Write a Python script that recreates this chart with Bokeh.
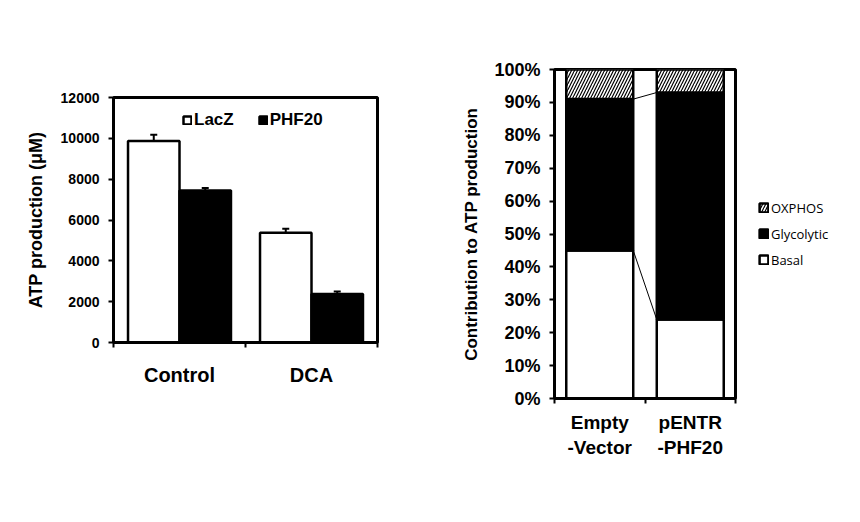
import numpy as np
from bokeh.plotting import figure
from bokeh.layouts import row, column
from bokeh.models import (Range1d, FixedTicker, Whisker, TeeHead, ColumnDataSource,
                          Legend, LegendItem, PrintfTickFormatter, Title)
from bokeh.embed import file_html
from bokeh.resources import INLINE

# ---------------- data ----------------
groups = ["Control", "DCA"]
lacz = [9870, 5370]
lacz_err = [300, 200]
phf20 = [7450, 2370]
phf20_err = [120, 130]
y_ticks_left = [0, 2000, 4000, 6000, 8000, 10000, 12000]

conditions = ["Empty\n-Vector", "pENTR\n-PHF20"]
basal = [45, 24]
glycolytic = [46, 69]
oxphos = [9, 7]
pct_ticks = [0, 10, 20, 30, 40, 50, 60, 70, 80, 90, 100]

FONT = "Liberation Sans"


def style_axes(p, ytick_size, xlab_size, xstandoff):
    for ax in (p.xaxis, p.yaxis):
        ax.axis_line_width = 3
        ax.axis_line_color = "black"
        ax.major_label_text_font = FONT
        ax.major_label_text_font_style = "bold"
        ax.major_label_text_color = "black"
    p.yaxis.minor_tick_line_color = None
    p.yaxis.major_tick_out = 5
    p.yaxis.major_tick_in = 0
    p.yaxis.major_tick_line_width = 2
    p.yaxis.major_tick_line_color = "black"
    p.yaxis.major_label_standoff = 9
    p.yaxis.major_label_text_font_size = ytick_size
    p.xaxis.major_tick_out = 0
    p.xaxis.major_tick_in = 0
    p.xaxis.minor_tick_out = 5
    p.xaxis.minor_tick_in = 0
    p.xaxis.minor_tick_line_width = 2
    p.xaxis.minor_tick_line_color = "black"
    p.xaxis.major_label_standoff = xstandoff
    p.xaxis.major_label_text_font_size = xlab_size


def side_label(p, text, size, offset, standoff):
    p.add_layout(Title(text=text, align="center", offset=offset, standoff=standoff,
                       text_font=FONT, text_font_style="bold", text_color="black",
                       text_font_size=size), "left")


# ---------------- left chart ----------------
p1 = figure(output_backend="svg", toolbar_location=None,
            frame_width=264, frame_height=245,
            min_border_left=113, min_border_right=71,
            min_border_top=97, min_border_bottom=164,
            x_range=Range1d(0, len(groups)), y_range=Range1d(0, 12000))
p1.outline_line_color = "black"
p1.outline_line_width = 3
p1.grid.visible = False

gx = np.arange(len(groups)) + 0.5
bw = 0.39
src_l = ColumnDataSource(dict(x=gx - bw / 2, top=lacz, up=np.array(lacz) + np.array(lacz_err)))
src_p = ColumnDataSource(dict(x=gx + bw / 2, top=phf20, up=np.array(phf20) + np.array(phf20_err)))

for src in (src_l, src_p):
    p1.add_layout(Whisker(source=src, base="x", upper="up", lower="top", dimension="height",
                          line_color="black", line_width=2,
                          upper_head=TeeHead(size=7, line_width=2, line_color="black"),
                          lower_head=None))
r_l = p1.vbar(x="x", top="top", width=bw, source=src_l, fill_color="white",
              line_color="black", line_width=2.5)
r_p = p1.vbar(x="x", top="top", width=bw, source=src_p, fill_color="black",
              line_color="black", line_width=2.5)

style_axes(p1, "14px", "20px", 16)
p1.yaxis.ticker = FixedTicker(ticks=y_ticks_left)
side_label(p1, "ATP production (μM)", "18px", 12, 24)
p1.xaxis.ticker = FixedTicker(ticks=list(gx), minor_ticks=list(range(len(groups) + 1)))
p1.xaxis.major_label_overrides = {float(v): g for v, g in zip(gx, groups)}

leg1 = Legend(items=[LegendItem(label="LacZ", renderers=[r_l]),
                     LegendItem(label="PHF20", renderers=[r_p])],
              orientation="horizontal", location=(69, 212),
              glyph_width=10, glyph_height=10, label_standoff=2, spacing=24,
              padding=0, margin=0, border_line_color=None, background_fill_alpha=0,
              label_text_font=FONT, label_text_font_style="bold", label_text_color="black",
              label_text_font_size="17px", label_height=16)
p1.add_layout(leg1)

# ---------------- right chart ----------------
p2 = figure(output_backend="svg", toolbar_location=None,
            frame_width=181, frame_height=329,
            min_border_left=106, min_border_right=117,
            min_border_top=69, min_border_bottom=108,
            x_range=Range1d(0, len(conditions)), y_range=Range1d(0, 100))
p2.outline_line_color = "black"
p2.outline_line_width = 3
p2.grid.visible = False

cx = np.arange(len(conditions)) + 0.5
cw = 0.74
b0 = np.zeros(len(conditions))
b1 = b0 + np.array(basal)
b2 = b1 + np.array(glycolytic)
b3 = b2 + np.array(oxphos)

# series lines between stacked bars
for lvl in (b1, b2, b3):
    p2.segment(x0=cx[:-1] + cw / 2, y0=lvl[:-1], x1=cx[1:] - cw / 2, y1=lvl[1:],
               line_color="black", line_width=1)

r_b = p2.vbar(x=cx, bottom=b0, top=b1, width=cw, fill_color="white",
              line_color="black", line_width=2.5)
r_g = p2.vbar(x=cx, bottom=b1, top=b2, width=cw, fill_color="black",
              line_color="black", line_width=2.5)
r_o = p2.vbar(x=cx, bottom=b2, top=b3, width=cw, fill_color="white",
              hatch_pattern="right_diagonal_line", hatch_color="black",
              hatch_scale=6, hatch_weight=1.2,
              line_color="black", line_width=2.5)

style_axes(p2, "18px", "19px", 8)
p2.yaxis.ticker = FixedTicker(ticks=pct_ticks)
p2.yaxis.formatter = PrintfTickFormatter(format="%d%%")
side_label(p2, "Contribution to ATP production", "17px", 23, 21)
p2.xaxis.ticker = FixedTicker(ticks=list(cx), minor_ticks=list(range(len(conditions) + 1)))
p2.xaxis.major_label_overrides = {float(v): c for v, c in zip(cx, conditions)}

leg2 = Legend(items=[LegendItem(label="OXPHOS", renderers=[r_o]),
                     LegendItem(label="Glycolytic", renderers=[r_g]),
                     LegendItem(label="Basal", renderers=[r_b])],
              location="center_left",
              glyph_width=11, glyph_height=11, label_standoff=2, spacing=8,
              padding=0, margin=23, border_line_color=None, background_fill_alpha=0,
              label_text_font="Open Sans", label_text_font_size="13px",
              label_text_color="black", label_height=17)
p2.add_layout(leg2, "right")

layout = row(column(p1), column(p2))
open("out.html", "w").write(file_html(layout, INLINE))
